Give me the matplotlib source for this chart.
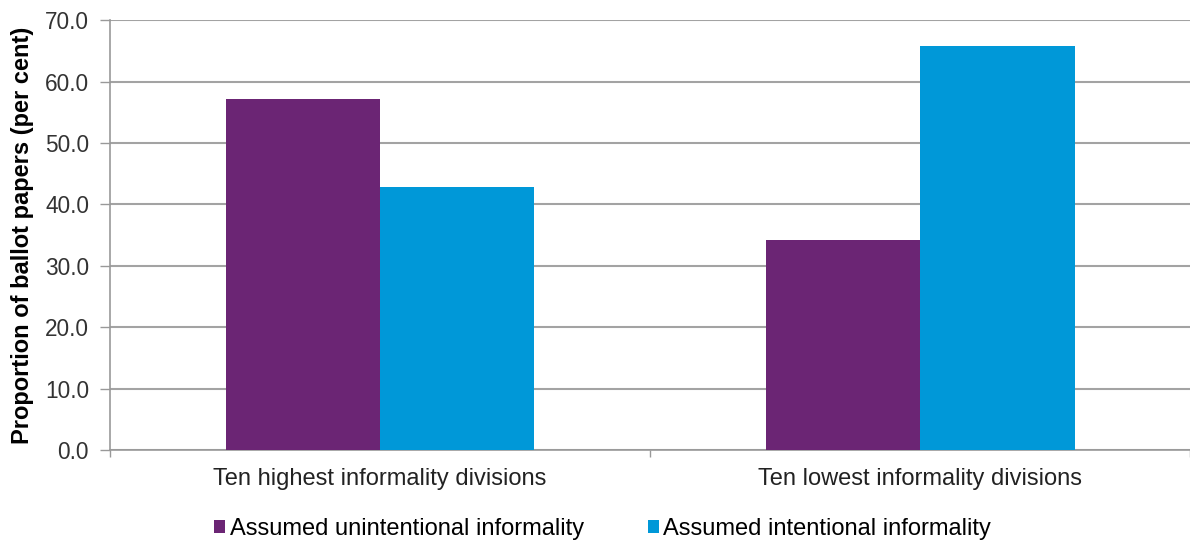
import numpy as np
import matplotlib
matplotlib.use("Agg")
import matplotlib.pyplot as plt

plt.rcParams['font.family'] = ['Liberation Sans', 'DejaVu Sans']

categories = ['Ten highest informality divisions', 'Ten lowest informality divisions']
series_names = ['Assumed unintentional informality', 'Assumed intentional informality']
unintentional = [57.2, 34.2]
intentional = [42.8, 65.8]
colors = ['#6B2574', '#0098D8']

fig = plt.figure(figsize=(11.9, 5.44), dpi=100)
ax = fig.add_axes([0.0924, 0.1728, 0.908, 0.790])

x = np.arange(len(categories))
w = 0.2855
ax.bar(x - w / 2, unintentional, w, color=colors[0], label=series_names[0], zorder=3)
ax.bar(x + w / 2, intentional, w, color=colors[1], label=series_names[1], zorder=3)

ax.set_ylim(0, 70)
ax.set_xlim(-0.5, 1.49)
ax.set_yticks(np.arange(0, 71, 10))
ax.set_yticklabels(['%.1f' % v for v in np.arange(0, 71, 10)], fontsize=16.3, color='#333333')
ax.set_xticks(x)
ax.set_xticklabels(categories, fontsize=17, color='#222222')
ax.set_xticks([-0.5, 0.5, 1.5], minor=True)
ax.tick_params(axis='x', which='major', length=0, pad=13)
ax.tick_params(axis='x', which='minor', length=5, color='#999999', width=1)
ax.tick_params(axis='y', length=7, color='#999999', width=1, pad=8)

ax.grid(axis='y', color='#a3a3a3', linewidth=1.5, zorder=0)
for s in ['top', 'right']:
    ax.spines[s].set_visible(False)
for s in ['left', 'bottom']:
    ax.spines[s].set_color('#999999')
    ax.spines[s].set_linewidth(1.2)

ax.set_ylabel('Proportion of ballot papers (per cent)', fontsize=17, fontweight='bold', labelpad=8)

ax.legend(loc='upper center', bbox_to_anchor=(0.456, -0.108), ncol=2, frameon=False,
          fontsize=17, handlelength=0.47, handleheight=0.47, handletextpad=0.2, columnspacing=2.7)

fig.savefig('out.png', dpi=100)
